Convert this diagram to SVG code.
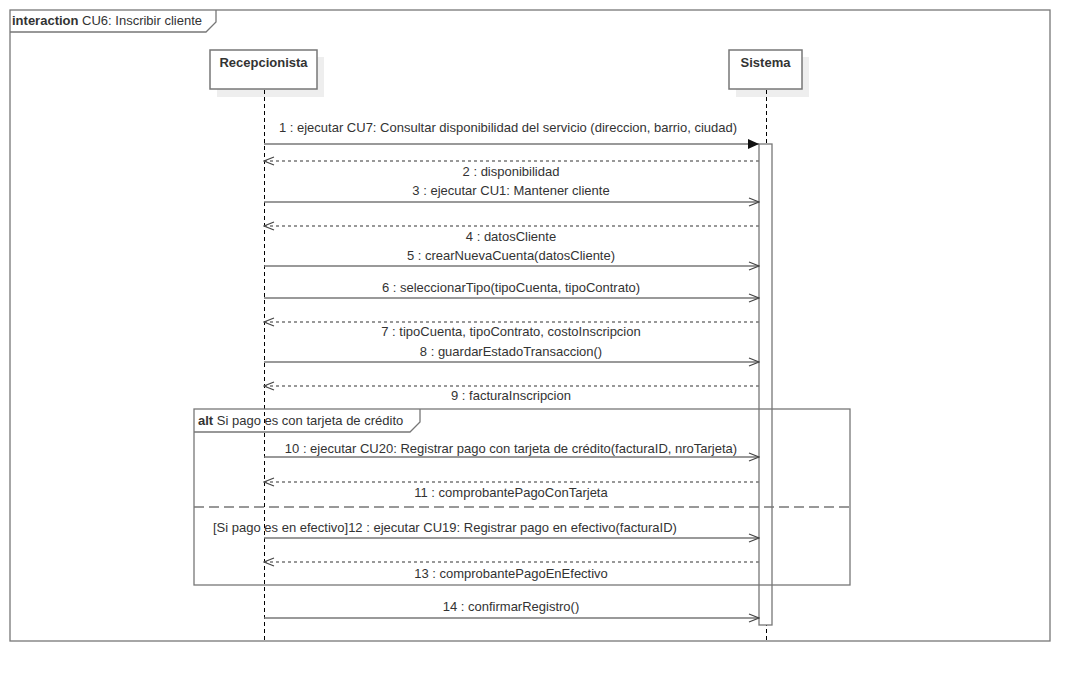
<svg xmlns="http://www.w3.org/2000/svg" width="1090" height="682" viewBox="0 0 1090 682">
  <style>
    text { font-family: "Liberation Sans", Arial, sans-serif; font-size: 13px; fill: #333; }
    .lbl { text-anchor: middle; }
    .b { font-weight: bold; }
    .frame { fill: none; stroke: #777; stroke-width: 1.3; }
    .msg { stroke: #777; stroke-width: 1.6; fill: none; }
    .ret { stroke: #777; stroke-width: 1.6; fill: none; stroke-dasharray: 3 3; }
    .life { stroke: #000; stroke-width: 1; stroke-dasharray: 4 3; }
    .box { fill: #fff; stroke: #777; stroke-width: 1.5; }
    .shadow { fill: #eeeeee; }
  </style>
  <defs>
    <marker id="open" markerWidth="12" markerHeight="10" refX="11" refY="5" orient="auto" markerUnits="userSpaceOnUse">
      <path d="M1,1 L11,5 L1,9" fill="none" stroke="#444" stroke-width="1.2"/>
    </marker>
    <marker id="filled" markerWidth="12" markerHeight="10" refX="11" refY="5" orient="auto" markerUnits="userSpaceOnUse">
      <path d="M0,0 L11,5 L0,10 Z" fill="#111" stroke="none"/>
    </marker>
  </defs>

  <rect width="1090" height="682" fill="#fff"/>

  <!-- interaction frame -->
  <g id="frame">
    <rect class="frame" x="10" y="10" width="1040" height="631"/>
    <path class="frame" d="M10,32 L206,32 L216,22 L216,10"/>
    <text x="12" y="25"><tspan class="b">interaction</tspan> CU6: Inscribir cliente</text>
  </g>

  <!-- lifelines -->
  <g id="recepcionista">
    <rect class="shadow" x="217" y="57" width="107" height="40"/>
    <rect class="box" x="210" y="50" width="107" height="39"/>
    <text class="lbl b" x="263.5" y="67">Recepcionista</text>
    <line class="life" x1="264.5" y1="90" x2="264.5" y2="641"/>
  </g>
  <g id="sistema">
    <rect class="shadow" x="736" y="57" width="73" height="40"/>
    <rect class="box" x="729" y="50" width="73" height="39"/>
    <text class="lbl b" x="765.5" y="67">Sistema</text>
    <line class="life" x1="766.5" y1="90" x2="766.5" y2="641"/>
    <rect x="759" y="144" width="13" height="481" fill="#fff" stroke="#777" stroke-width="1.3"/>
  </g>

  <!-- combined fragment -->
  <g id="alt">
    <rect class="frame" x="194" y="409" width="656" height="176"/>
    <path class="frame" d="M194,432 L410,432 L420,422 L420,409"/>
    <text x="198" y="425"><tspan class="b">alt</tspan> Si pago es con tarjeta de crédito</text>
    <line x1="194" y1="507" x2="850" y2="507" stroke="#777" stroke-width="1.3" stroke-dasharray="10 5"/>
  </g>

  <!-- messages -->
  <g id="connectors">
    <line class="msg" x1="264" y1="144" x2="759" y2="144" marker-end="url(#filled)"/>
    <text class="lbl" x="508" y="132">1 : ejecutar CU7: Consultar disponibilidad del servicio (direccion, barrio, ciudad)</text>

    <line class="ret" x1="759" y1="161" x2="264" y2="161" marker-end="url(#open)"/>
    <text class="lbl" x="511" y="176">2 : disponibilidad</text>

    <line class="msg" x1="264" y1="202" x2="759" y2="202" marker-end="url(#open)"/>
    <text class="lbl" x="511" y="195">3 : ejecutar CU1: Mantener cliente</text>

    <line class="ret" x1="759" y1="226" x2="264" y2="226" marker-end="url(#open)"/>
    <text class="lbl" x="511" y="241">4 : datosCliente</text>

    <line class="msg" x1="264" y1="266" x2="759" y2="266" marker-end="url(#open)"/>
    <text class="lbl" x="511" y="260">5 : crearNuevaCuenta(datosCliente)</text>

    <line class="msg" x1="264" y1="298" x2="759" y2="298" marker-end="url(#open)"/>
    <text class="lbl" x="511" y="292">6 : seleccionarTipo(tipoCuenta, tipoContrato)</text>

    <line class="ret" x1="759" y1="322" x2="264" y2="322" marker-end="url(#open)"/>
    <text class="lbl" x="511" y="336">7 : tipoCuenta, tipoContrato, costoInscripcion</text>

    <line class="msg" x1="264" y1="362" x2="759" y2="362" marker-end="url(#open)"/>
    <text class="lbl" x="511" y="356">8 : guardarEstadoTransaccion()</text>

    <line class="ret" x1="759" y1="386" x2="264" y2="386" marker-end="url(#open)"/>
    <text class="lbl" x="511" y="400">9 : facturaInscripcion</text>

    <line class="msg" x1="264" y1="457" x2="759" y2="457" marker-end="url(#open)"/>
    <text class="lbl" x="511" y="453">10 : ejecutar CU20: Registrar pago con tarjeta de crédito(facturaID, nroTarjeta)</text>

    <line class="ret" x1="759" y1="482" x2="264" y2="482" marker-end="url(#open)"/>
    <text class="lbl" x="511" y="497">11 : comprobantePagoConTarjeta</text>

    <line class="msg" x1="264" y1="538" x2="759" y2="538" marker-end="url(#open)"/>
    <text x="213" y="532">[Si pago es en efectivo]12 : ejecutar CU19: Registrar pago en efectivo(facturaID)</text>

    <line class="ret" x1="759" y1="562" x2="264" y2="562" marker-end="url(#open)"/>
    <text class="lbl" x="511" y="578">13 : comprobantePagoEnEfectivo</text>

    <line class="msg" x1="264" y1="618" x2="759" y2="618" marker-end="url(#open)"/>
    <text class="lbl" x="511" y="611">14 : confirmarRegistro()</text>
  </g>
</svg>
